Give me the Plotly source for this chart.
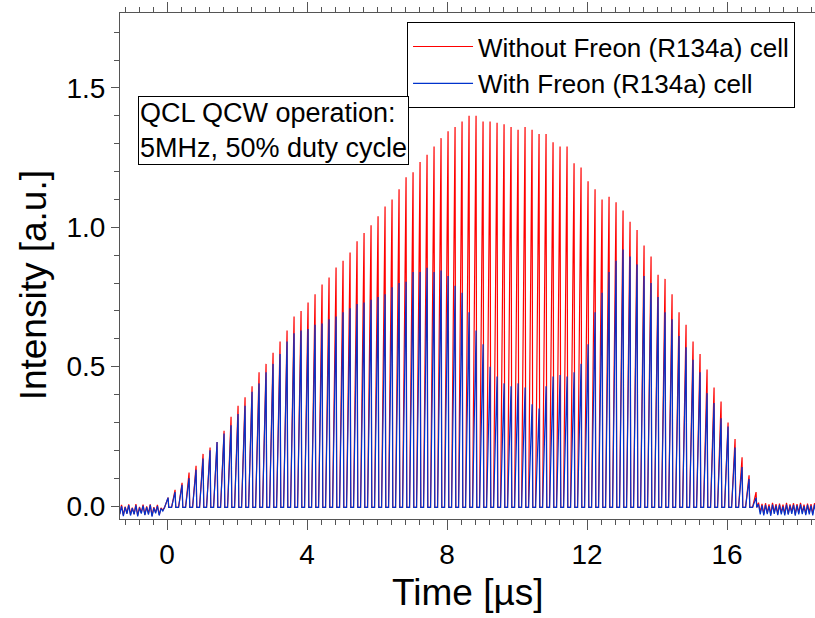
import numpy as np
import plotly.graph_objects as go

# ---- data ----
period_us = 0.2          # 5 MHz repetition
first_peak_us = 0.03     # time of first pulse peak
trough_level = -0.005

red_peaks = [0.03, 0.058, 0.083, 0.12, 0.144, 0.187, 0.21, 0.23, 0.27, 0.32,
             0.36, 0.39, 0.43, 0.48, 0.51, 0.55, 0.59, 0.63, 0.68, 0.70,
             0.73, 0.76, 0.795, 0.82, 0.856, 0.88, 0.91, 0.95, 0.98, 1.007,
             1.04, 1.075, 1.10, 1.137, 1.18, 1.198, 1.234, 1.26, 1.29, 1.32,
             1.345, 1.36, 1.38, 1.40, 1.40, 1.38, 1.38, 1.375, 1.37, 1.36,
             1.35, 1.36, 1.35, 1.335, 1.335, 1.305, 1.29, 1.29, 1.23, 1.215,
             1.165, 1.137, 1.10, 1.11, 1.09, 1.06, 1.02, 0.99, 0.935, 0.895,
             0.83, 0.815, 0.76, 0.695, 0.65, 0.59, 0.545, 0.49, 0.425, 0.375,
             0.30, 0.24, 0.175, 0.11, 0.05]

blue_peaks = [0.03, 0.05, 0.076, 0.10, 0.13, 0.17, 0.20, 0.23, 0.26, 0.29,
              0.33, 0.36, 0.41, 0.44, 0.48, 0.51, 0.545, 0.59, 0.62, 0.63,
              0.635, 0.65, 0.655, 0.67, 0.68, 0.695, 0.71, 0.725, 0.73, 0.74,
              0.75, 0.76, 0.785, 0.80, 0.805, 0.84, 0.84, 0.855, 0.84, 0.845,
              0.825, 0.79, 0.765, 0.695, 0.63, 0.58, 0.50, 0.465, 0.44, 0.43,
              0.44, 0.425, 0.365, 0.35, 0.43, 0.465, 0.47, 0.465, 0.48, 0.51,
              0.58, 0.695, 0.765, 0.84, 0.88, 0.92, 0.895, 0.867, 0.825, 0.80,
              0.75, 0.695, 0.67, 0.61, 0.57, 0.525, 0.48, 0.405, 0.37, 0.315,
              0.285, 0.21, 0.14, 0.097, 0.03]

pre_noise_red = [-0.028, 0.004, -0.033, -0.002, -0.026, 0.006, -0.030, -0.006, -0.029, 0.007,
                 -0.034, -0.003, -0.024, 0.005, -0.031, -0.001, -0.027, 0.006, -0.035, -0.004,
                 -0.023, 0.004, -0.032, -0.007, -0.015]
pre_noise_blue = [-0.030, 0.000, -0.036, -0.004, -0.028, 0.003, -0.034, -0.008, -0.030, 0.002,
                  -0.037, -0.006, -0.027, 0.001, -0.033, -0.004, -0.031, 0.004, -0.038, -0.007,
                  -0.026, 0.000, -0.034, -0.009, -0.018]
post_noise_red = [0.012, -0.022, 0.008, -0.028, 0.010, -0.025, 0.006, -0.030, 0.011, -0.023,
                  0.007, -0.029, 0.009, -0.024, 0.005, -0.027, 0.011, -0.028, 0.006, -0.022,
                  0.010, -0.030, 0.007, -0.025, 0.011, -0.023, 0.005, -0.028, 0.009, -0.024,
                  0.007, -0.027, 0.010, -0.022]
post_noise_blue = [0.006, -0.030, 0.002, -0.034, 0.004, -0.029, 0.000, -0.035, 0.005, -0.028,
                   0.001, -0.033, 0.004, -0.030, -0.001, -0.034, 0.005, -0.031, 0.001, -0.028,
                   0.004, -0.035, 0.002, -0.030, 0.006, -0.029, 0.000, -0.033, 0.004, -0.030,
                   0.001, -0.034, 0.005, -0.028]

series_names = ["Without Freon (R134a) cell", "With Freon (R134a) cell"]
x_ticks = [0, 4, 8, 12, 16]
y_ticks = [0.0, 0.5, 1.0, 1.5]


def waveform(peaks, pre, post):
    xs = list(np.linspace(-1.35, -0.12, len(pre)))
    ys = list(pre)
    for k, a in enumerate(peaks):
        t = first_peak_us + k * period_us
        xs += [t - 0.10, t, t + 0.02]
        ys += [trough_level, a, trough_level]
    xs += list(np.linspace(16.90, 18.55, len(post)))
    ys += list(post)
    return xs, ys


FONT = "Liberation Sans, Arial, sans-serif"
fig = go.Figure()
for name, peaks, pre, post, col in [
    (series_names[0], red_peaks, pre_noise_red, post_noise_red, "#ff0000"),
    (series_names[1], blue_peaks, pre_noise_blue, post_noise_blue, "#0033cc"),
]:
    xs, ys = waveform(peaks, pre, post)
    fig.add_trace(go.Scatter(x=xs, y=ys, mode="lines", name=name,
                             line=dict(color=col, width=1.2)))

axis_common = dict(showgrid=False, zeroline=False, showline=True, linecolor="#555",
                   linewidth=1, mirror="allticks", ticks="outside", tickcolor="#555",
                   automargin=False,
                   tickfont=dict(family=FONT, size=28, color="black"))

fig.update_xaxes(range=[-1.343, 18.514], tickvals=x_ticks, ticklen=10,
                 minor=dict(dtick=0.4, tick0=0, ticks="outside", ticklen=5, tickcolor="#555"),
                 **axis_common)
fig.update_yaxes(range=[-0.0466, 1.769], tickvals=y_ticks, tickformat=".1f", ticklen=8,
                 minor=dict(dtick=0.1, tick0=0, ticks="outside", ticklen=5, tickcolor="#555"),
                 **axis_common)

# axis titles
fig.add_annotation(xref="paper", yref="paper", x=0.5, y=-0.145, xanchor="center", yanchor="middle",
                   text="Time [µs]", showarrow=False,
                   font=dict(family=FONT, size=37, color="black"))
fig.add_annotation(xref="paper", yref="paper", x=-0.125, y=0.462, xanchor="center", yanchor="middle",
                   text="Intensity [a.u.]", textangle=-90, showarrow=False,
                   font=dict(family=FONT, size=37, color="black"))

fig.add_annotation(xref="paper", yref="paper", x=0.026, y=0.836, xanchor="left", yanchor="top",
                   text="QCL QCW operation:<br>5MHz, 50% duty cycle", align="left",
                   showarrow=False, font=dict(family=FONT, size=27, color="black"),
                   bordercolor="black", borderwidth=1, borderpad=1, bgcolor="white")

fig.update_layout(width=815, height=618, margin=dict(l=120, r=0, t=13, b=99),
                  paper_bgcolor="white", plot_bgcolor="white",
                  legend=dict(x=0.413, y=0.982, xanchor="left", yanchor="top",
                              bgcolor="white", bordercolor="black", borderwidth=1,
                              font=dict(family=FONT, size=26, color="black"),
                              itemwidth=60, tracegroupgap=0))

fig.write_html("out.html", config={"displayModeBar": False},
               post_script="document.body.style.margin='0px';")
